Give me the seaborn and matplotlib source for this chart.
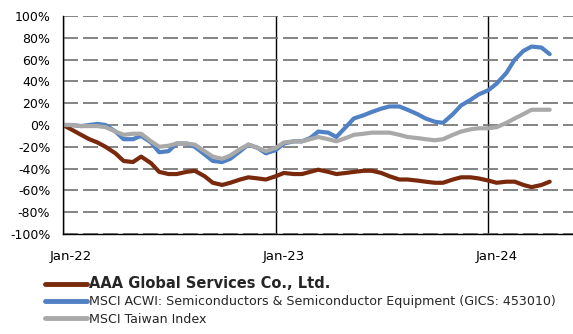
import numpy as np
import pandas as pd
import matplotlib
matplotlib.use('Agg')
import matplotlib.pyplot as plt
import matplotlib.dates as mdates
import matplotlib.ticker as mticker
from matplotlib.transforms import ScaledTranslation
import seaborn as sns

# ============ DATA (semi-monthly, % change since Jan-22) ============
dates = pd.date_range('2022-01-01', periods=56, freq='SMS')

aaa = [0, -4, -9, -13, -16, -20, -26, -33, -34, -29, -35, -43, -45, -45, -43, -42,
       -47, -53, -55, -53, -50, -48, -49, -50, -47, -44, -45, -45, -43, -41, -43, -45,
       -44, -43, -42, -42, -44, -47, -50, -50, -51, -52, -53, -53, -50, -48, -48, -49,
       -51, -53, -52, -52, -55, -57, -55, -52]

semis = [0, 0, -1, 0, 1, 0, -6, -13, -13, -10, -16, -25, -24, -17, -17, -20,
         -27, -33, -34, -31, -24, -18, -21, -26, -23, -17, -15, -15, -12, -6, -7, -11,
         -2, 6, 9, 12, 15, 17, 17, 14, 10, 6, 3, 2, 10, 18, 23, 28,
         32, 38, 48, 60, 68, 72, 71, 65]

taiwan = [0, 0, -1, -1, -1, -2, -6, -9, -8, -8, -15, -20, -19, -17, -17, -18,
          -24, -29, -31, -28, -22, -18, -21, -24, -21, -16, -15, -15, -13, -11, -13, -15,
          -12, -9, -8, -7, -7, -7, -9, -11, -12, -13, -14, -13, -9, -6, -4, -3,
          -3, -2, 2, 6, 10, 14, 14, 14]

series_names = ['AAA Global Services Co., Ltd.',
                'MSCI ACWI: Semiconductors & Semiconductor Equipment (GICS: 453010)',
                'MSCI Taiwan Index']
colors = ['#7a2a0c', '#4f81c4', '#a9a9a9']

df = pd.DataFrame({'date': np.tile(dates, 3),
                   'value': np.array(aaa + semis + taiwan) / 100.0,
                   'series': np.repeat(series_names, len(dates))})

# ============ PLOT ============
sns.set_style('white')
plt.rcParams['font.family'] = ['DejaVu Sans']

fig = plt.figure(figsize=(5.73, 3.34), dpi=100)
ax = fig.add_axes([63 / 573, 1 - 234 / 334, 1 - 63 / 573, (234 - 16) / 334])

sns.lineplot(data=df, x='date', y='value', hue='series', palette=colors,
             hue_order=series_names, linewidth=3, ax=ax, legend=False,
             solid_capstyle='round', solid_joinstyle='round')

ax.set_ylim(-1.0, 1.0)
ax.set_xlim(pd.Timestamp('2022-01-01'), pd.Timestamp('2024-05-25'))
ax.yaxis.set_major_locator(mticker.MultipleLocator(0.2))
ax.yaxis.set_major_formatter(mticker.FuncFormatter(lambda v, p: f'{v*100:.0f}%'))
ax.xaxis.set_major_locator(mdates.YearLocator())
ax.xaxis.set_major_formatter(mdates.DateFormatter('%b-%y'))
ax.xaxis.set_minor_locator(mdates.MonthLocator(bymonth=[4, 7, 10]))

ax.set_xlabel('')
ax.set_ylabel('')
ax.set_axisbelow(True)
ax.grid(axis='y', color='#707070', linestyle=(0, (9, 3)), linewidth=1.2)
ax.grid(axis='x', which='major', color='black', linestyle='-', linewidth=1.0)

for side in ['top', 'right']:
    ax.spines[side].set_visible(False)
for side in ['left', 'bottom']:
    ax.spines[side].set_color('black')
    ax.spines[side].set_linewidth(1.0)

ax.tick_params(axis='y', which='major', direction='out', length=3.6, width=1,
               color='black', pad=5.5, labelsize=9, labelcolor='black')
ax.tick_params(axis='x', which='major', direction='out', length=4.5, width=1,
               color='black', pad=7, labelsize=9.5, labelcolor='black')
ax.tick_params(axis='x', which='minor', direction='in', length=3.6, width=1,
               color='black')

# month labels sit a little right of their gridline, as in Excel
fig.canvas.draw()
for lab in ax.get_xticklabels():
    lab.set_transform(lab.get_transform() + ScaledTranslation(0.08, 0, fig.dpi_scale_trans))

handles = [plt.Line2D([], [], color=c, linewidth=3.5, solid_capstyle='round') for c in colors]
leg = fig.legend(handles, series_names, loc='upper left',
                 bbox_to_anchor=(45 / 573, 1 - 276 / 334), frameon=False,
                 fontsize=9.1, handlelength=3.3, handletextpad=0.15,
                 labelspacing=0.35, borderpad=0, borderaxespad=0)
t0 = leg.get_texts()[0]
t0.set_fontweight('bold')
t0.set_fontsize(10.5)

fig.savefig('out.png', dpi=100)
